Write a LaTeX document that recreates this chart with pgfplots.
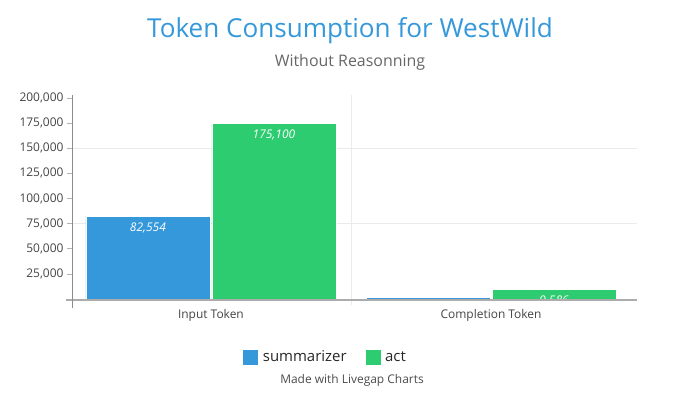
\documentclass[border=0pt]{standalone}
\usepackage{pgfplots}
\pgfplotsset{compat=1.18}
\usepackage{fontspec}
\setmainfont{Open Sans}
\definecolor{cblue}{HTML}{3498DB}
\definecolor{cgreen}{HTML}{2ECC71}
\definecolor{ctick}{HTML}{444444}
\definecolor{cgrid}{HTML}{EBEBEB}
\begin{document}
\begin{tikzpicture}[x=1bp,y=1bp]
\path[use as bounding box] (0,0) rectangle (700,400);
% vertical separator grid line
\draw[cgrid, line width=1bp] (351.5,305) -- (351.5,95);
\begin{axis}[
  at={(72bp,101bp)}, anchor=south west,
  scale only axis, width=565bp, height=204bp,
  xmin=-0.496, xmax=1.521, ymin=0, ymax=203000,
  ybar=2bp, bar width=124bp,
  axis line style={draw=none},
  xtick={0,1}, xticklabels={Input Token, Completion Token},
  xtick style={draw=none},
  xticklabel style={yshift=-2bp},
  ytick={25000,50000,75000,100000,125000,150000,175000,200000},
  yticklabels={{25,000},{50,000},{75,000},{100,000},{125,000},{150,000},{175,000},{200,000}},
  ytick pos=left, tick align=outside, major tick length=5bp,
  ytick style={draw=gray!60, line width=0.6bp},
  ymajorgrids=false,
  extra y ticks={75000,150000}, extra y tick labels={},
  extra y tick style={grid=major, major grid style={cgrid, line width=1bp}, tick style={draw=none}},
  scaled y ticks=false,
  ticklabel style={font=\fontsize{12}{14}\selectfont, text=ctick},
  clip mode=individual,
  point meta=explicit symbolic,
  nodes near coords,
  every node near coord/.append style={white, font=\fontsize{12}{14}\selectfont\itshape, anchor=center, yshift=-12bp},
  legend columns=2,
  legend style={draw=none, fill=none, at={(0.448,-0.284)}, anchor=center,
    font=\fontsize{15}{18}\selectfont, text=black!85,
    /tikz/every odd column/.append style={column sep=2bp},
    /tikz/every even column/.append style={column sep=16bp}},
]
\addplot[fill=cblue, draw=white, line width=0.5bp,
  legend image code/.code={\path[fill=cblue] (0bp,-8bp) rectangle (16bp,8bp);}]
  coordinates {(0,82554) [82,554] (1,1500) [1,500]};
\addlegendentry{summarizer}
\addplot[fill=cgreen, draw=white, line width=0.5bp,
  legend image code/.code={\path[fill=cgreen] (0bp,-8bp) rectangle (16bp,8bp);}]
  coordinates {(0,175100) [175,100] (1,9586) [9,586]};
\addlegendentry{act}
\end{axis}
\draw[gray!65, line width=2bp] (66,100.5) -- (637,100.5);
\draw[gray!90, line width=0.7bp] (72,305) -- (72,92);
\node[text=cblue, font=\fontsize{26.2}{31}\selectfont] at (350,369) {Token Consumption for WestWild};
\node[text=black!60, font=\fontsize{16}{19}\selectfont] at (350,338) {Without Reasonning};
\node[text=black!70, font=\fontsize{12}{14}\selectfont] at (352,20) {Made with Livegap Charts};
\end{tikzpicture}
\end{document}
